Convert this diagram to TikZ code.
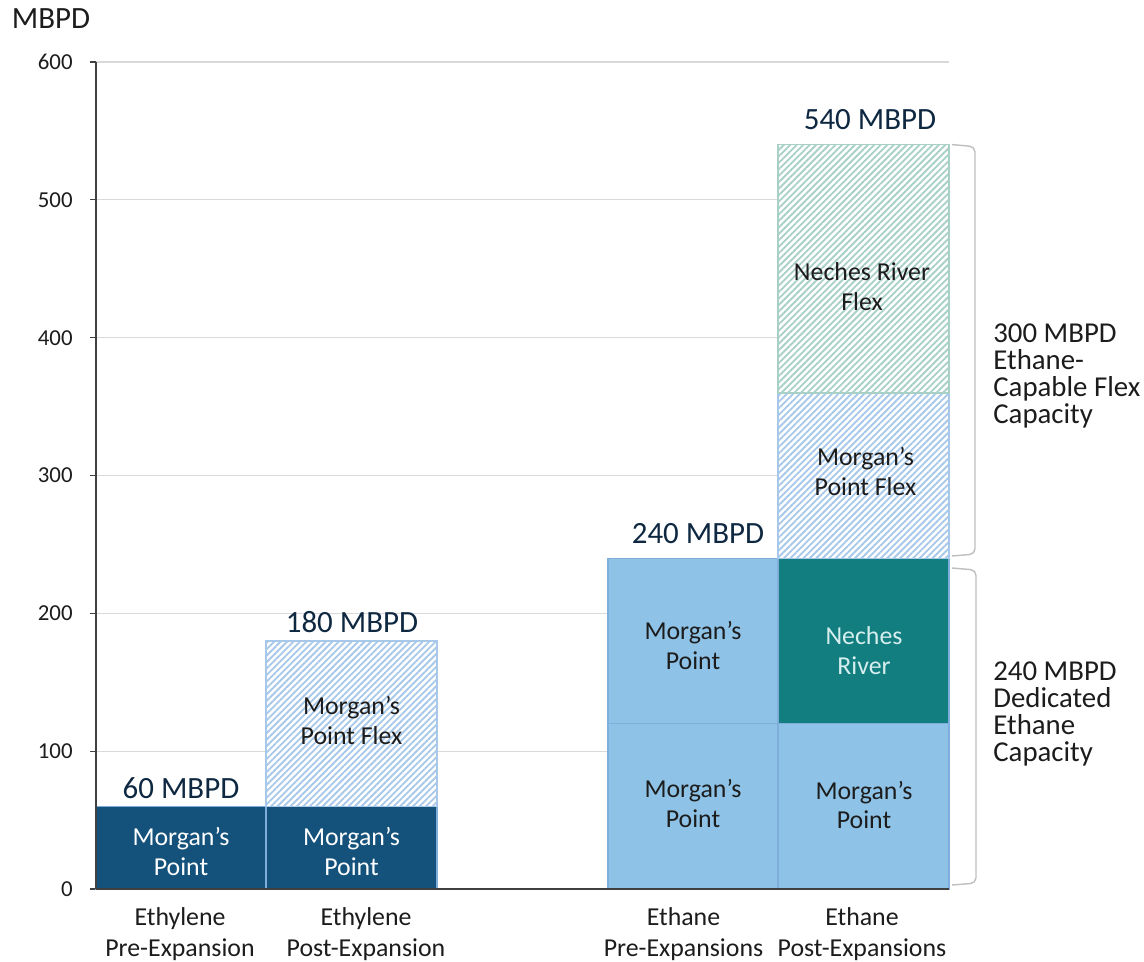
\documentclass[tikz,border=0pt]{standalone}
\usepackage{fontspec}
\setmainfont{Carlito}
\usepackage{xcolor}
\usepackage{tikz}
\usetikzlibrary{patterns.meta}

\definecolor{darkbar}{RGB}{20,82,124}
\definecolor{lightbar}{RGB}{142,195,231}
\definecolor{tealbar}{RGB}{18,126,128}
\definecolor{flexblue}{RGB}{168,200,234}
\definecolor{flexgreen}{RGB}{168,208,198}
\definecolor{cellline}{RGB}{128,174,218}
\definecolor{valnavy}{RGB}{14,40,65}
\definecolor{txtdark}{RGB}{28,28,28}
\definecolor{gridgray}{RGB}{217,217,217}
\definecolor{bracegray}{RGB}{190,190,190}
\definecolor{axisgray}{RGB}{64,64,64}

\begin{document}
\begin{tikzpicture}[x=0.02cm, y=0.027567cm,
    every node/.style={inner sep=0pt, align=center, text=txtdark},
    celltext/.style={font=\fontsize{14.7}{17}\selectfont},
    lighttext/.style={celltext, text=white},
    valtext/.style={font=\fontsize{17.6}{20}\selectfont, text=valnavy},
    cattext/.style={font=\fontsize{14.7}{17.6}\selectfont},
    notetext/.style={font=\fontsize{16.4}{15.3}\selectfont, align=left, anchor=west},
    ticktext/.style={font=\fontsize{13}{15}\selectfont, anchor=east},
    solidcell/.style={draw=cellline, line width=0.8pt},
    hatchcell/.style={line width=0.8pt, preaction={fill=white}, pattern={Lines[angle=45,distance=2.6pt,line width=1.05pt]}},
    bracket/.style={draw=bracegray, line width=0.8pt, rounded corners=3pt}]
	\useasboundingbox (-96,-52.24) rectangle (1048,645.0);
	% grid and axis
	\foreach \v in {100,200,...,600}
		\draw[gridgray, line width=0.6pt] (0,\v) -- (853,\v);
	\foreach \v in {0,100,...,600} {
		\draw[axisgray, line width=0.7pt] (-6,\v) -- (0,\v);
		\node[ticktext] (tick\v) at (-23,\v) {\v};
	}
	\node[font=\fontsize{17.6}{20}\selectfont] (unit) at (-45,631.2) {MBPD};
	% ethylene bars
	\filldraw[solidcell, fill=darkbar] (0,0) rectangle (170,60);
	\filldraw[solidcell, fill=darkbar] (170,0) rectangle (341,60);
	\filldraw[hatchcell, draw=flexblue, pattern color=flexblue] (170,60) rectangle (341,180);
	\node[lighttext] (eyPre) at (85,27) {Morgan’s\\Point};
	\node[lighttext] (eyPost) at (255.5,27) {Morgan’s\\Point};
	\node[celltext] (eyFlex) at (255.5,122) {Morgan’s\\Point Flex};
	% ethane bars
	\filldraw[solidcell, fill=lightbar] (512,0) rectangle (682,120);
	\filldraw[solidcell, fill=lightbar] (512,120) rectangle (682,240);
	\filldraw[solidcell, fill=lightbar] (682,0) rectangle (853,120);
	\filldraw[solidcell, fill=tealbar] (682,120) rectangle (853,240);
	\filldraw[hatchcell, draw=flexblue, pattern color=flexblue] (682,240) rectangle (853,360);
	\filldraw[hatchcell, draw=flexgreen, pattern color=flexgreen] (682,360) rectangle (853,540);
	\node[celltext] (etPreLow) at (597,62) {Morgan’s\\Point};
	\node[celltext] (etPreHigh) at (597,177) {Morgan’s\\Point};
	\node[celltext] (etPostLow) at (768,61) {Morgan’s\\Point};
	\node[lighttext, text={rgb,255:red,214;green,238;blue,238}] (etNeches) at (768,173) {Neches\\River};
	\node[celltext] (etFlex) at (769.5,303) {Morgan’s\\Point Flex};
	\node[celltext] (etNechesFlex) at (766,437) {Neches River\\Flex};
	\draw[axisgray, line width=0.9pt] (0,0) -- (0,600);
	\draw[axisgray, line width=0.9pt] (0,0) -- (853,0);
	% totals
	\node[valtext] (tot60) at (85,73.3) {60 MBPD};
	\node[valtext] (tot180) at (256,193.7) {180 MBPD};
	\node[valtext] (tot240) at (602,257.6) {240 MBPD};
	\node[valtext] (tot540) at (774,558.6) {540 MBPD};
	% categories
	\node[cattext] (catA) at (84,-32.7) {Ethylene\\Pre-Expansion};
	\node[cattext] (catB) at (270,-32.7) {Ethylene\\Post-Expansion};
	\node[cattext] (catC) at (587.5,-32.7) {Ethane\\Pre-Expansions};
	\node[cattext] (catD) at (766,-32.7) {Ethane\\Post-Expansions};
	% brackets
	\draw[bracket] (856,540.1) -- (879,538.6) -- (879,243.0) -- (856,241.6);
	\draw[bracket] (856,232.9) -- (880,231.4) -- (880,4.3) -- (856,2.9);
	\node[notetext] (noteFlex) at (897,372.4) {300 MBPD\\Ethane-\\Capable Flex\\Capacity};
	\node[notetext] (noteDed) at (897,126.9) {240 MBPD\\Dedicated\\Ethane\\Capacity};
\end{tikzpicture}
\end{document}
